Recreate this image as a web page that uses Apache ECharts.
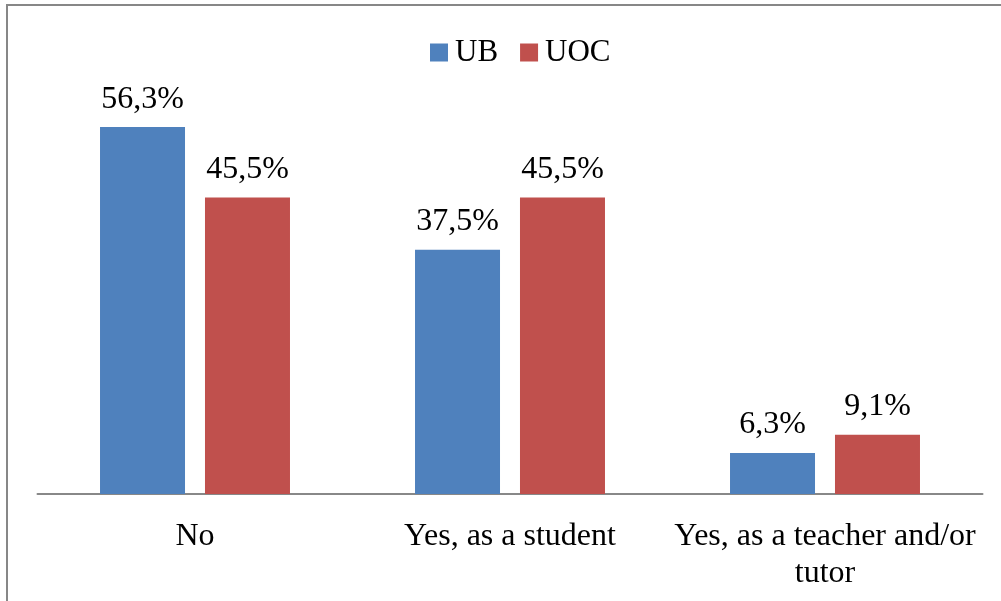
<!DOCTYPE html>
<html>
<head>
<meta charset="utf-8">
<script src="https://cdn.jsdelivr.net/npm/echarts@6/dist/echarts.min.js"></script>
<style>
html,body{margin:0;padding:0;background:#fff;}
#chart{width:1001px;height:601px;}
</style>
</head>
<body>
<div id="chart"></div>
<script>
const categories = ['No', 'Yes, as a student', 'Yes, as a teacher and/or\ntutor'];
const seriesNames = ['UB', 'UOC'];
const ubValues = [56.3, 37.5, 6.3];
const uocValues = [45.5, 45.5, 9.1];

const FONT = '"Liberation Serif", "Times New Roman", serif';
const chart = echarts.init(document.getElementById('chart'));
const fmt = p => p.value.toFixed(1).replace('.', ',') + '%';
const labelCfg = {
  show: true, position: 'top', distance: 12, formatter: fmt,
  color: '#000', fontFamily: FONT, fontSize: 32
};
chart.setOption({
  animation: false,
  backgroundColor: '#fff',
  graphic: [{
    type: 'rect', shape: {x: 7, y: 5, width: 1100, height: 700},
    style: {fill: 'none', stroke: '#878787', lineWidth: 2}, silent: true
  }],
  legend: {
    data: seriesNames, top: 32, left: 425,
    itemWidth: 18, itemHeight: 18, itemGap: 22,
    icon: 'rect',
    textStyle: {fontFamily: FONT, fontSize: 31, color: '#000', padding: [0,0,0,2]}
  },
  grid: {left: 37.5, right: 18.5, top: 103, bottom: 107, containLabel: false},
  xAxis: {
    type: 'category', data: categories,
    axisLine: {lineStyle: {color: '#888', width: 2}},
    axisTick: {show: false},
    axisLabel: {color: '#000', fontFamily: FONT, fontSize: 32, margin: 24, lineHeight: 37, interval: 0}
  },
  yAxis: {type: 'value', min: 0, max: 60, show: false, splitLine: {show: false}},
  series: [
    {name: 'UB', type: 'bar', data: ubValues, barWidth: 85, barGap: '23.5%',
     itemStyle: {color: '#4F81BD'}, label: labelCfg},
    {name: 'UOC', type: 'bar', data: uocValues, barWidth: 85, barGap: '23.5%',
     itemStyle: {color: '#C0504D'}, label: labelCfg}
  ]
});
</script>
</body>
</html>
